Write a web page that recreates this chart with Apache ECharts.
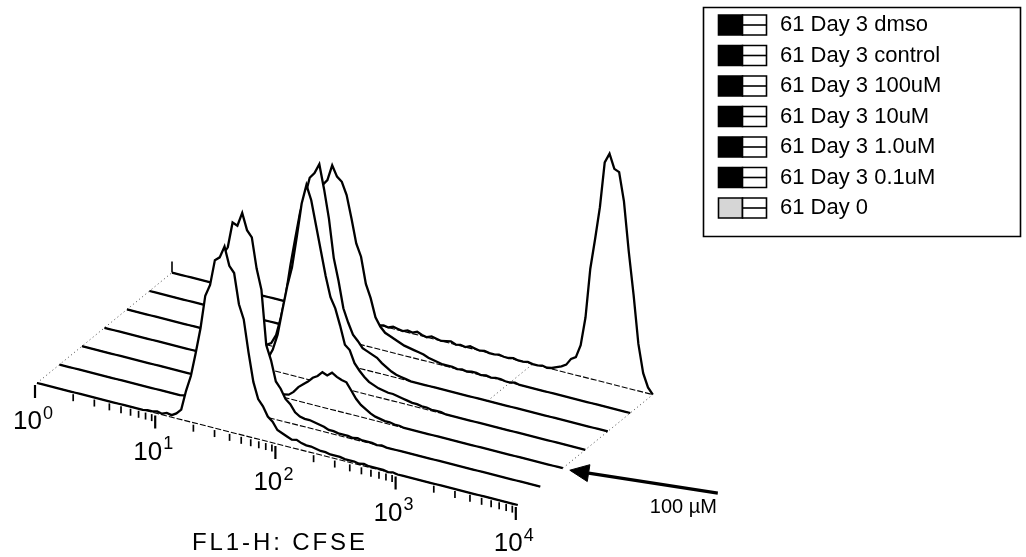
<!DOCTYPE html>
<html>
<head>
<meta charset="utf-8">
<title>CFSE offset histograms</title>
<script src="https://cdn.jsdelivr.net/npm/echarts@6.0.0/dist/echarts.min.js"></script>
<style>
html,body{margin:0;padding:0;background:#ffffff;}
#chart{width:1026px;height:557px;}
</style>
</head>
<body>
<div id="chart"></div>
<script>
// ---------------- data ----------------
const sampleNames = ['61 Day 3 dmso', '61 Day 3 control', '61 Day 3 100uM', '61 Day 3 10uM',
                     '61 Day 3 1.0uM', '61 Day 3 0.1uM', '61 Day 0'];
const fl1LogStart = 0;      // log10(FL1-H) of the first channel
const fl1LogStep = 0.04;    // decades per channel (101 channels, 10^0 .. 10^4)

const countsDmso = [
  0,0,0,0,0,0,0,0,0,0,
  0,0,0,0,0,0,0,0,0,0,
  0,0,0,1,1,2,1,3,2,5,
  10,30,46,70,96,130,142,168,172,184,
  166,160,130,116,84,56,40,34,25,21,
  14,12,10,8,9,7,6,6,5,4,
  4,3,3,3,2,2,2,1,2,1,
  1,1,1,0,1,0,0,0,0,0,
  0,0,0,0,0,0,0,0,0,0,
  0,0,0,0,0,0,0,0,0,0,
  0];
const countsControl = [
  0,0,0,0,0,0,0,0,0,0,
  0,0,0,0,0,0,0,0,0,0,
  0,0,0,0,0,0,1,1,2,5,
  20,50,90,122,152,160,186,184,198,182,
  176,146,126,72,58,38,32,23,19,12,
  9,8,8,7,6,5,3,3,2,2,
  2,1,2,1,1,1,0,1,0,0,
  0,0,0,0,0,0,0,0,0,0,
  0,0,0,0,0,0,0,0,0,0,
  0,0,0,0,0,0,0,0,0,0,
  0];
const counts100uM = [
  0,0,0,0,0,0,0,0,0,0,
  0,0,0,0,0,0,0,0,0,0,
  0,0,0,0,0,0,0,0,0,2,
  4,6,7,8,8,7,6,5,5,4,
  4,4,3,4,8,14,18,22,27,30,
  35,33,37,34,32,31,24,17,12,9,
  6,4,3,2,2,1,1,0,0,0,
  0,0,0,0,0,0,0,0,0,0,
  0,0,0,0,0,0,0,0,0,0,
  0,0,0,0,0,0,0,0,0,0,
  0];
const counts10uM = [
  0,0,0,0,0,0,0,0,0,0,
  0,0,0,0,0,0,0,0,0,0,
  0,0,0,0,0,0,0,0,0,0,
  0,0,2,6,11,21,37,63,88,108,
  140,174,194,180,156,132,108,88,78,62,
  44,40,28,22,17,13,11,9,8,7,
  7,6,5,4,3,3,2,2,1,1,
  1,0,0,0,0,0,0,0,0,0,
  0,0,0,0,0,0,0,0,0,0,
  0,0,0,0,0,0,0,0,0,0,
  0];
const counts1uM = [
  0,0,0,0,0,0,0,0,0,0,
  0,0,0,0,0,0,0,0,0,0,
  0,0,0,0,0,0,0,0,0,0,
  3,12,31,54,86,114,141,158,178,184,
  194,170,142,104,82,56,43,32,27,21,
  19,17,15,11,8,5,3,2,1,0,
  0,0,0,0,0,0,0,0,0,0,
  0,0,0,0,0,0,0,0,0,0,
  0,0,0,0,0,0,0,0,0,0,
  0,0,0,0,0,0,0,0,0,0,
  0];
const counts01uM = [
  0,0,0,0,0,0,0,0,0,0,
  0,0,0,0,0,0,0,0,0,0,
  0,0,0,0,0,0,0,0,3,10,
  26,44,71,94,120,133,150,156,172,162,
  158,146,124,100,88,62,49,31,23,18,
  16,14,12,10,9,8,7,6,4,3,
  2,1,1,1,0,1,0,1,1,0,
  1,0,1,1,0,0,1,0,0,0,
  0,0,0,0,0,0,0,0,0,0,
  0,0,0,0,0,0,0,0,0,0,
  0];
const countsDay0 = [
  0,0,0,0,0,0,0,0,0,0,
  0,0,0,0,0,0,0,0,0,0,
  0,0,0,0,0,0,0,0,0,0,
  0,0,0,0,0,0,0,0,0,0,
  0,0,0,0,1,0,2,1,0,2,
  1,3,1,0,2,1,0,1,2,0,
  1,0,2,1,0,1,0,0,1,0,
  0,1,0,0,1,0,0,1,0,1,
  3,5,8,15,18,31,60,110,141,174,
  220,230,216,214,186,137,95,47,19,6,
  0];

const decadeExponents = ['0', '1', '2', '3', '4'];
const axisTitle = 'FL1-H: CFSE';
const arrowLabel = '100 µM';
const arrowSample = 2;   // the arrow points at the 100uM trace

// ---------------- layout / projection ----------------
const histograms = [countsDmso, countsControl, counts100uM, counts10uM, counts1uM, counts01uM, countsDay0];
const G = { W: 1026, H: 557, originX: 37, originY: 383,
            decadeDx: 120.2, decadeDy: 30.5, depthDx: 22.5, depthDy: -18.4 };
// hidden cartesian: x = decades along the front axis, y = counts (1 count = 1 px)
function proj(u, k, c) {
  return [u + k * G.depthDx / G.decadeDx, c - u * G.decadeDy - k * G.depthDy];
}
const xMin = -G.originX / G.decadeDx, xMax = xMin + G.W / G.decadeDx;
const yMax = G.originY, yMin = G.originY - G.H;
const FONT = '"Liberation Sans", Arial, Helvetica, sans-serif';
const nDepth = histograms.length;

function histSeries(k) {
  return {
    type: 'custom', coordinateSystem: 'cartesian2d', silent: true, clip: false,
    z: 10 + (nDepth - 1 - k), animation: false,
    data: [[k, 0]],
    renderItem: function (params, api) {
      const counts = histograms[k];
      const last = fl1LogStart + (counts.length - 1) * fl1LogStep;
      const pts = counts.map((c, i) => api.coord(proj(fl1LogStart + i * fl1LogStep, k, c)));
      const b0 = api.coord(proj(fl1LogStart, k, 0));
      const b1 = api.coord(proj(last, k, 0));
      return { type: 'group', children: [
        { type: 'polygon', shape: { points: [b0].concat(pts, [b1]) }, style: { fill: '#ffffff', stroke: 'none' } },
        { type: 'line', shape: { x1: b0[0], y1: b0[1], x2: b1[0], y2: b1[1] },
          style: { stroke: '#000', lineWidth: 1.1, lineDash: [6, 2] } },
        { type: 'polyline', shape: { points: pts }, style: { stroke: '#000', lineWidth: 2.3, fill: 'none' } }
      ]};
    }
  };
}

// depth guide lines: [decade, from sample, to sample]
const depthGuides = [[0, 0, 6], [3, 4, 6], [4, 2, 6]];

const axisSeries = {
  type: 'custom', coordinateSystem: 'cartesian2d', silent: true, clip: false, z: 5, animation: false,
  data: [[0, 0]],
  renderItem: function (params, api) {
    const ch = [];
    depthGuides.forEach(g => {
      const a = api.coord(proj(g[0], g[1], 0)), b = api.coord(proj(g[0], g[2], 0));
      ch.push({ type: 'line', shape: { x1: a[0], y1: a[1], x2: b[0], y2: b[1] },
                style: { stroke: '#444', lineWidth: 1, lineDash: [1, 3] } });
    });
    const bs = api.coord(proj(0, nDepth - 1, 0)), be = api.coord(proj(0, nDepth - 1, 11));
    ch.push({ type: 'line', shape: { x1: bs[0], y1: bs[1], x2: be[0], y2: be[1] }, style: { stroke: '#000', lineWidth: 1.6 } });
    decadeExponents.forEach((e, d) => {
      const p = api.coord(proj(d, 0, 0));
      ch.push({ type: 'line', shape: { x1: p[0] - 2, y1: p[1] + 2, x2: p[0] - 2, y2: p[1] + 15 },
                style: { stroke: '#000', lineWidth: 2.2 } });
      ch.push({ type: 'text', style: { text: '10', x: p[0] - 24, y: p[1] + 39, font: '26px ' + FONT,
                fill: '#000', align: 'left', verticalAlign: 'middle' } });
      ch.push({ type: 'text', style: { text: e, x: p[0] + 6, y: p[1] + 31, font: '18px ' + FONT,
                fill: '#000', align: 'left', verticalAlign: 'middle' } });
      if (d < decadeExponents.length - 1) {
        for (let m = 2; m <= 9; m++) {
          const q = api.coord(proj(d + Math.log10(m), 0, 0));
          ch.push({ type: 'line', shape: { x1: q[0], y1: q[1] + 2, x2: q[0], y2: q[1] + 9 },
                    style: { stroke: '#000', lineWidth: 1.7 } });
        }
      }
    });
    return { type: 'group', children: ch };
  }
};

const arrowSeries = {
  type: 'custom', coordinateSystem: 'cartesian2d', silent: true, clip: false, z: 20, animation: false,
  data: [[4, arrowSample]],
  renderItem: function (params, api) {
    const e = api.coord(proj(4, arrowSample, 0));
    const tip = [e[0] + 7, e[1] + 2];
    const tail = [tip[0] + 148, tip[1] + 23];
    const len = Math.hypot(tail[0] - tip[0], tail[1] - tip[1]);
    const ux = (tail[0] - tip[0]) / len, uy = (tail[1] - tip[1]) / len;
    const hl = 19, hw = 8.5;
    const bx = tip[0] + ux * hl, by = tip[1] + uy * hl;
    return { type: 'group', children: [
      { type: 'line', shape: { x1: bx, y1: by, x2: tail[0], y2: tail[1] }, style: { stroke: '#000', lineWidth: 3.2 } },
      { type: 'polygon', shape: { points: [tip, [bx - uy * hw, by + ux * hw], [bx + uy * hw, by - ux * hw]] },
        style: { fill: '#000', stroke: '#000' } },
      { type: 'text', style: { text: arrowLabel, x: tip[0] + 80, y: tip[1] + 37, font: '20px ' + FONT,
        fill: '#000', align: 'left', verticalAlign: 'middle' } }
    ]};
  }
};

// ---------------- legend + axis title (graphic) ----------------
const graphics = [];
graphics.push({ type: 'rect', shape: { x: 703.5, y: 7.5, width: 317, height: 229 },
                style: { fill: '#fff', stroke: '#000', lineWidth: 1.6 }, z: 100 });
sampleNames.forEach((name, i) => {
  const top = 15 + 30.5 * i;
  const isDay0 = i === sampleNames.length - 1;
  graphics.push({ type: 'rect', shape: { x: 718.5, y: top, width: 24, height: 20 },
                  style: { fill: isDay0 ? '#d6d6d6' : '#000', stroke: '#000', lineWidth: 1.6 }, z: 101 });
  graphics.push({ type: 'rect', shape: { x: 742.5, y: top, width: 24, height: 20 },
                  style: { fill: '#fff', stroke: '#000', lineWidth: 1.6 }, z: 101 });
  graphics.push({ type: 'line', shape: { x1: 742.5, y1: top + 10, x2: 766.5, y2: top + 10 },
                  style: { stroke: '#000', lineWidth: 1.6 }, z: 101 });
  graphics.push({ type: 'text', x: 780, y: top + 10, z: 101,
                  style: { text: name, font: '22px ' + FONT, fill: '#000', align: 'left', verticalAlign: 'middle' } });
});
(function () {
  const font = '24px ' + FONT;
  const ctx = document.createElement('canvas').getContext('2d');
  ctx.font = font;
  const spacing = 2.9;
  let x = 192;
  for (const ch of axisTitle) {
    graphics.push({ type: 'text', x: x, y: 543, z: 101,
                    style: { text: ch, font: font, fill: '#000', align: 'left', verticalAlign: 'middle' } });
    x += ctx.measureText(ch).width + spacing;
  }
})();

const chart = echarts.init(document.getElementById('chart'), null, { renderer: 'canvas', width: G.W, height: G.H });
chart.setOption({
  animation: false,
  backgroundColor: '#ffffff',
  grid: { left: 0, right: 0, top: 0, bottom: 0, containLabel: false },
  xAxis: { type: 'value', min: xMin, max: xMax, show: false, splitLine: { show: false } },
  yAxis: { type: 'value', min: yMin, max: yMax, show: false, splitLine: { show: false } },
  series: [axisSeries].concat(histograms.map((h, k) => histSeries(k)), [arrowSeries]),
  graphic: graphics
});
</script>
</body>
</html>
